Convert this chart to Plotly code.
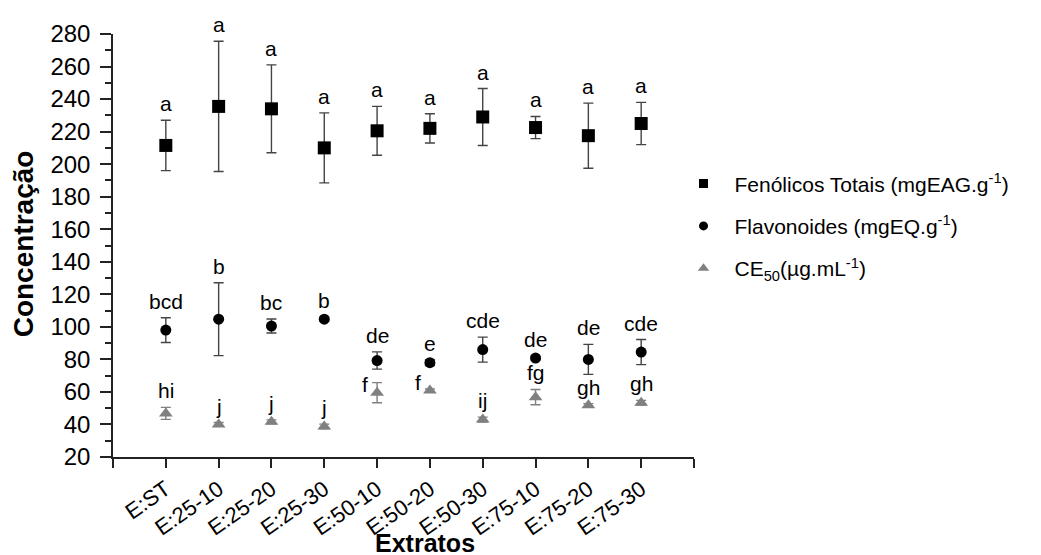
import plotly.graph_objects as go

# ---------------- data ----------------
categories = ["E:ST", "E:25-10", "E:25-20", "E:25-30", "E:50-10",
              "E:50-20", "E:50-30", "E:75-10", "E:75-20", "E:75-30"]

fenolicos = [211.5, 235.5, 234.0, 210.0, 220.5, 222.0, 229.0, 222.5, 217.5, 225.0]
fenolicos_err = [15.5, 40.0, 27.0, 21.5, 15.0, 9.0, 17.5, 6.8, 20.0, 13.0]
fenolicos_letters = ["a", "a", "a", "a", "a", "a", "a", "a", "a", "a"]

flavonoides = [98.0, 104.7, 100.5, 104.7, 79.3, 78.0, 86.0, 80.8, 80.0, 84.5]
flavonoides_err = [7.6, 22.4, 4.3, 1.3, 5.3, 1.8, 7.7, 1.2, 9.2, 7.7]
flavonoides_letters = ["bcd", "b", "bc", "b", "de", "e", "cde", "de", "de", "cde"]

ce50 = [46.8, 40.0, 41.6, 38.8, 59.5, 60.8, 43.0, 56.8, 51.8, 53.4]
ce50_err = [3.7, 1.2, 1.2, 1.4, 6.2, 1.0, 1.5, 4.7, 1.0, 1.4]
ce50_letters = ["hi", "j", "j", "j", "f", "f", "ij", "fg", "gh", "gh"]

series_names = ["Fenólicos Totais (mgEAG.g<sup>-1</sup>)",
                "Flavonoides (mgEQ.g<sup>-1</sup>)",
                "CE<sub>50</sub>(µg.mL<sup>-1</sup>)"]

y_ticks = list(range(20, 281, 20))

# ---------------- styling ----------------
FONT = "Liberation Sans, Arial, sans-serif"
x = list(range(len(categories)))

styles = [
    dict(symbol="square", size=13, color="black", err_color="#444444", legend_size=9),
    dict(symbol="circle", size=11, color="black", err_color="#444444", legend_size=9),
    dict(symbol="triangle-up", size=12, color="#808080", err_color="#808080", legend_size=10),
]
values = [fenolicos, flavonoides, ce50]
errors = [fenolicos_err, flavonoides_err, ce50_err]
letters = [fenolicos_letters, flavonoides_letters, ce50_letters]

# labels placed on the left of the point instead of above (series index, point index)
left_labels = {(2, 4), (2, 5)}

fig = go.Figure()
for k in range(3):
    st = styles[k]
    fig.add_trace(go.Scatter(
        x=x, y=values[k], mode="markers", showlegend=False,
        marker=dict(symbol=st["symbol"], size=st["size"], color=st["color"]),
        error_y=dict(type="data", array=errors[k], visible=True,
                     color=st["err_color"], thickness=1.4, width=5),
    ))
    # legend-only trace with smaller symbol
    fig.add_trace(go.Scatter(
        x=[None], y=[None], mode="markers", name=series_names[k],
        legendgroup=str(k),
        marker=dict(symbol=st["symbol"], size=st["legend_size"], color=st["color"]),
    ))

LETTER_FONT = dict(family=FONT, size=21, color="black")
annotations = []
for k in range(3):
    for i, lab in enumerate(letters[k]):
        if (k, i) in left_labels:
            annotations.append(dict(
                x=x[i], y=values[k][i], xref="x", yref="y", text=lab,
                showarrow=False, xanchor="right", yanchor="bottom",
                xshift=-7, yshift=-5, font=LETTER_FONT))
        else:
            annotations.append(dict(
                x=x[i], y=values[k][i] + errors[k][i], xref="x", yref="y", text=lab,
                showarrow=False, xanchor="center", yanchor="bottom",
                yshift=3, font=LETTER_FONT))

# axis titles
annotations.append(dict(
    x=0.537, y=-0.166, xref="paper", yref="paper", text="<b>Extratos</b>",
    showarrow=False, xanchor="center", yanchor="top",
    font=dict(family=FONT, size=25, color="black")))
annotations.append(dict(
    x=-0.155, y=0.505, xref="paper", yref="paper", text="<b>Concentração</b>",
    showarrow=False, xanchor="center", yanchor="middle", textangle=-90,
    font=dict(family=FONT, size=28, color="black")))

fig.update_layout(
    width=1041, height=555,
    paper_bgcolor="white", plot_bgcolor="white",
    margin=dict(l=105, r=355, t=19, b=106),
    font=dict(family=FONT, color="black"),
    annotations=annotations,
    legend=dict(
        x=0.963, y=0.694, xanchor="left", yanchor="top",
        font=dict(family=FONT, size=21, color="black"),
        bgcolor="rgba(0,0,0,0)", itemwidth=52,
        traceorder="grouped", tracegroupgap=12,
    ),
)

fig.update_xaxes(
    range=[-1, len(categories)],
    tickmode="array", tickvals=x, ticktext=categories,
    tickangle=-35,
    ticks="outside", ticklen=9, tickwidth=1.5, tickcolor="#222222",
    minor=dict(tick0=-1, dtick=1, ticks="outside", ticklen=9, tickwidth=1.5,
               tickcolor="#222222", showgrid=False),
    showline=True, linecolor="#222222", linewidth=1.5,
    showgrid=False, zeroline=False,
    tickfont=dict(family=FONT, size=22, color="black"),
)

fig.update_yaxes(
    range=[20, 280],
    tickmode="array", tickvals=y_ticks,
    ticks="outside", ticklen=11, tickwidth=1.5, tickcolor="#222222",
    minor=dict(dtick=10, ticks="outside", ticklen=6, tickwidth=1.5,
               tickcolor="#222222", showgrid=False),
    showline=True, linecolor="#222222", linewidth=1.5,
    showgrid=False, zeroline=False,
    tickfont=dict(family=FONT, size=24, color="black"),
    ticklabelstandoff=5,
)

fig.write_html("out.html")
